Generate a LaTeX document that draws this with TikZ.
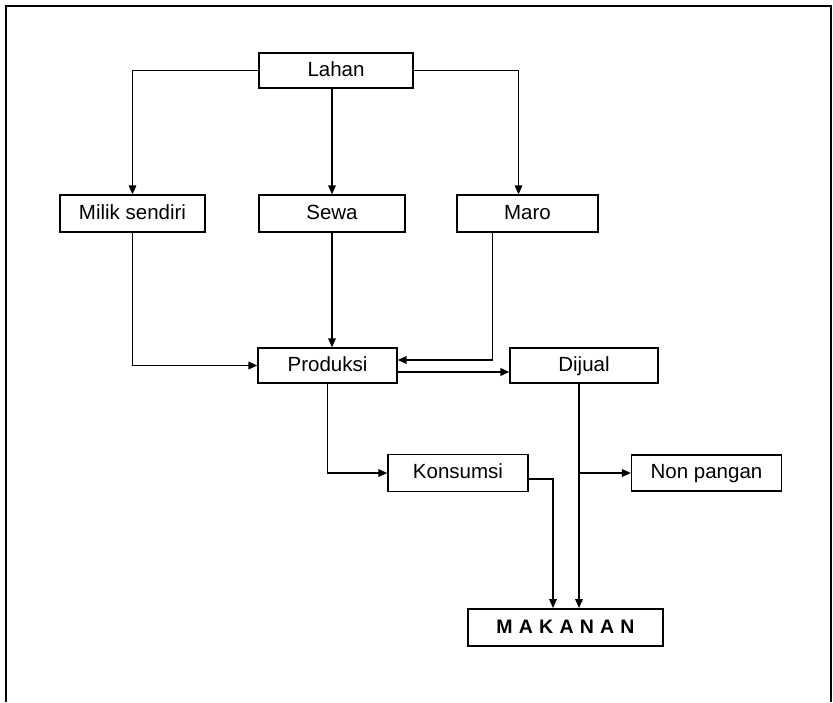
\documentclass[tikz,border=0pt]{standalone}
\usepackage{fontspec}
\setmainfont{Liberation Sans}
\usepackage{tikz}
\usetikzlibrary{arrows.meta}

\begin{document}
\begin{tikzpicture}[x=1pt,y=-1pt,
  every node/.style={rectangle,draw,line width=1.2pt,inner sep=0pt,text height=15pt,text depth=4pt,font=\fontsize{20.5}{24}\selectfont},
  arr/.style={line width=1.6pt,-{Triangle[length=9pt,width=7.5pt]}}]
  \useasboundingbox (0,0) rectangle (833,702);
  \draw[line width=1.6pt] (6,702) -- (6,6) -- (831,6) -- (831,702);

  \node[minimum width=154pt,minimum height=35pt] (lahan) at (336,70.5) {Lahan};
  \node[minimum width=145pt,minimum height=37pt] (milik) at (132.5,213.5) {Milik sendiri};
  \node[minimum width=146pt,minimum height=37pt] (sewa) at (332,213.5) {Sewa};
  \node[minimum width=141pt,minimum height=37pt] (maro) at (527.5,213.5) {Maro};
  \node[minimum width=139pt,minimum height=35pt] (produksi) at (327.5,365.5) {Produksi};
  \node[minimum width=148pt,minimum height=35pt] (dijual) at (584,365.5) {Dijual};
  \node[minimum width=140pt,minimum height=37pt] (konsumsi) at (458,473) {Konsumsi};
  \node[minimum width=150pt,minimum height=36pt] (nonpangan) at (706.5,473) {Non pangan};
  \node[minimum width=195pt,minimum height=37pt,line width=1.8pt,font=\fontsize{19.5}{23}\selectfont\bfseries\addfontfeature{LetterSpace=32}] (makanan) at (565.5,627.5) {MAKANAN};
  \coordinate (cabang) at (579,473);

  \draw[arr] (lahan.west) -| (milik.north);
  \draw[arr] (lahan.south -| sewa.north) -- (sewa.north);
  \draw[arr] (lahan.east) -| ([xshift=-9pt]maro.north);
  \draw[arr] (milik.south) |- (produksi.west);
  \draw[arr] (sewa.south) -- (sewa.south |- produksi.north);
  \draw[arr] ([xshift=-35pt]maro.south) |- ([yshift=5.5pt]produksi.east);
  \draw[arr,line width=2.4pt] ([yshift=-6.5pt]produksi.east) -- ([yshift=-6.5pt]produksi.east -| dijual.west);
  \draw[arr] (produksi.south) |- (konsumsi.west);
  \draw[arr] ([yshift=-6pt]konsumsi.east) -| ([xshift=-12.5pt]makanan.north);
  \draw[arr] (dijual.south -| cabang) -- (cabang |- makanan.north);
  \draw[arr] (cabang) -- (nonpangan.west);
\end{tikzpicture}
\end{document}
